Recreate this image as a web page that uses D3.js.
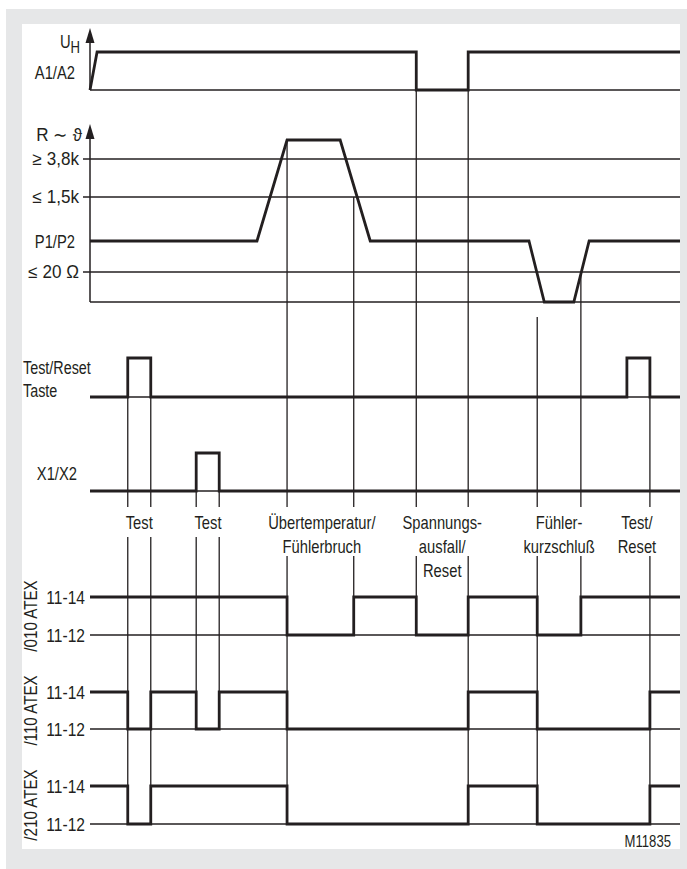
<!DOCTYPE html>
<html>
<head>
<meta charset="utf-8">
<script src="https://cdn.jsdelivr.net/npm/d3@7"></script>
<style>
  body { margin: 0; background: #fff; }
  svg text { font-family: "Liberation Sans", Arial, sans-serif; fill: #231f20; }
</style>
</head>
<body>
<svg id="chart" width="687" height="869"></svg>
<script>
// time axis runs 0..100
var uhSignal = [[0,0],[1.2,1],[55.3,1],[55.3,0],[64.1,0],[64.1,1],[100,1]];
var rSignal = [[0,2],[28.3,2],[33.4,5],[42.4,5],[47.5,2],[74.4,2],[77,0],[82,0],[84.6,2],[100,2]];
var tasteSignal = [[0,0],[6.4,1],[10.3,0],[91,1],[94.9,0],[100,0]];
var x1x2Signal = [[0,0],[18,1],[21.9,0],[100,0]];
var rel010 = [[0,1],[33.4,0],[44.7,1],[55.3,0],[64.1,1],[75.8,0],[83.2,1],[100,1]];
var rel110 = [[0,1],[6.4,0],[10.3,1],[18,0],[21.9,1],[33.4,0],[64.1,1],[75.8,0],[94.9,1],[100,1]];
var rel210 = [[0,1],[6.4,0],[10.3,1],[33.4,0],[64.1,1],[75.8,0],[94.9,1],[100,1]];

var rLevels = ['', '≤ 20 Ω', 'P1/P2', '≤ 1,5k', '≥ 3,8k'];

// event guides: time, start track/level, end track/level, label rows to skip
var guides = [
  [6.4, 'taste', 1, 'r210', 0, 1],
  [10.3, 'taste', 1, 'r210', 0, 1],
  [18, 'x1', 1, 'r110', 0, 1],
  [21.9, 'x1', 1, 'r110', 0, 1],
  [33.4, 'r', 5, 'r210', 0, 2],
  [44.7, 'r', 3, 'r010', 0, 2],
  [55.3, 'uh', 0, 'r010', 0, 2],
  [64.1, 'uh', 0, 'r210', 0, 2],
  [75.8, 'r', -0.5, 'r210', 0, 2],
  [83.2, 'r', 1, 'r010', 0, 2],
  [94.9, 'taste', 1, 'r210', 0, 2]
];

var eventLabels = [
  [8.35, ['Test']],
  [20, ['Test']],
  [39.3, ['Übertemperatur/', 'Fühlerbruch']],
  [59.7, ['Spannungs-', 'ausfall/', 'Reset']],
  [79.5, ['Fühler-', 'kurzschluß']],
  [92.7, ['Test/', 'Reset']]
];

var relayNames = ['/010 ATEX', '/110 ATEX', '/210 ATEX'];

var ink = '#231f20';
var narrow = 0.82; // condensed look from a regular face
var svg = d3.select('#chart');

svg.append('rect').attr('x', 6).attr('y', 9).attr('width', 681).attr('height', 860).attr('fill', '#e6e7e8');
svg.append('rect').attr('x', 22).attr('y', 24).attr('width', 658).attr('height', 825).attr('fill', '#fff');

var x = d3.scaleLinear().domain([0, 100]).range([90, 680]);

var y = {
  uh: d3.scaleLinear().domain([0, 1]).range([90, 52]),
  r: d3.scaleLinear().domain([-1, 0, 1, 2, 3, 4, 5]).range([332, 302, 272, 241, 197, 159, 140]),
  taste: d3.scaleLinear().domain([0, 1]).range([397, 358]),
  x1: d3.scaleLinear().domain([0, 1]).range([491, 453]),
  r010: d3.scaleLinear().domain([0, 1]).range([635, 597]),
  r110: d3.scaleLinear().domain([0, 1]).range([729, 692]),
  r210: d3.scaleLinear().domain([0, 1]).range([824, 786])
};

var thin = 1.3, thick = 2.8;

function hline(yy, x0) {
  svg.append('line')
    .attr('x1', x0).attr('x2', x(100))
    .attr('y1', yy).attr('y2', yy)
    .attr('stroke', ink).attr('stroke-width', thin);
}

// thin reference lines
hline(y.uh(0), x(0));
hline(y.r(0), x(0));
[1, 3, 4].forEach(function(l) { hline(y.r(l), x(0) - 7); });
hline(y.taste(0), x(0));
hline(y.x1(0), x(0));
hline(y.r010(0), x(0));
hline(y.r110(0), x(0));
hline(y.r210(0), x(0));

// vertical axes with arrows
[[y.uh(0), 28], [y.r(0), 124]].forEach(function(a) {
  svg.append('line').attr('x1', x(0)).attr('x2', x(0))
    .attr('y1', a[0]).attr('y2', a[1] + 10)
    .attr('stroke', ink).attr('stroke-width', 1.5);
  svg.append('path')
    .attr('d', 'M' + x(0) + ',' + a[1] + 'l4.5,15h-9z')
    .attr('fill', ink);
});

// guides
var rowTop = 507;
guides.forEach(function(g) {
  var gx = x(g[0]);
  var y0 = y[g[1]](g[2]), y1 = y[g[3]](g[4]);
  var resume = g[5] === 1 ? 537 : 556;
  svg.append('line').attr('x1', gx).attr('x2', gx).attr('y1', y0).attr('y2', rowTop)
    .attr('stroke', ink).attr('stroke-width', thin);
  svg.append('line').attr('x1', gx).attr('x2', gx).attr('y1', resume).attr('y2', y1)
    .attr('stroke', ink).attr('stroke-width', thin);
});

// signals
function draw(data, sc, curve) {
  var line = d3.line()
    .x(function(d) { return x(d[0]); })
    .y(function(d) { return sc(d[1]); })
    .curve(curve);
  svg.append('path').datum(data)
    .attr('d', line)
    .attr('fill', 'none')
    .attr('stroke', ink)
    .attr('stroke-width', thick)
    .attr('stroke-linejoin', 'miter');
}
draw(uhSignal, y.uh, d3.curveLinear);
draw(rSignal, y.r, d3.curveLinear);
draw(tasteSignal, y.taste, d3.curveStepAfter);
draw(x1x2Signal, y.x1, d3.curveStepAfter);
draw(rel010, y.r010, d3.curveStepAfter);
draw(rel110, y.r110, d3.curveStepAfter);
draw(rel210, y.r210, d3.curveStepAfter);

// labels
function label(txt, tx, ty, anchor, size, rot, sx) {
  return svg.append('text')
    .attr('transform', 'translate(' + tx + ',' + ty + ')' + (rot ? ' rotate(' + rot + ')' : '') + ' scale(' + (sx || narrow) + ',1)')
    .attr('text-anchor', anchor || 'end')
    .style('font-size', (size || 18) + 'px')
    .text(txt);
}
var uh = svg.append('text')
  .attr('transform', 'translate(80,48) scale(' + narrow + ',1)')
  .attr('text-anchor', 'end').style('font-size', '18px');
uh.append('tspan').text('U');
uh.append('tspan').attr('dy', 5).style('font-size', '16px').text('H');
label('A1/A2', 75, 79);
label('R ∼ ϑ', 82, 141, 'end', 18, 0, 0.95);
rLevels.forEach(function(t, i) {
  if (!t) return;
  if (i === 2) label(t, 75, y.r(i) + 7);
  else label(t, 79, y.r(i) + 6, 'end', 18, 0, 0.95);
});
label('Test/Reset', 23, 374, 'start', 17.5);
label('Taste', 23, 397, 'start', 17.5);
label('X1/X2', 77, 480);

['r010', 'r110', 'r210'].forEach(function(k, i) {
  label('11-14', 85, y[k](1) + 7, 'end', 19);
  label('11-12', 85, y[k](0) + 7, 'end', 19);
  var cy = (y[k](0) + y[k](1)) / 2;
  label(relayNames[i], 37, cy, 'middle', 18.5, -90);
});

// event labels
eventLabels.forEach(function(e) {
  e[1].forEach(function(t, i) {
    label(t, x(e[0]), 529 + i * 24, 'middle', 18);
  });
});

label('M11835', 671, 847, 'end', 16);
</script>
</body>
</html>
